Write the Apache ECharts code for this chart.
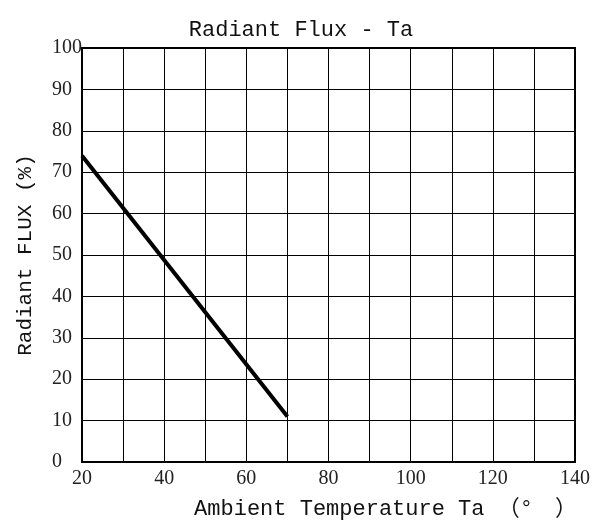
<!DOCTYPE html>
<html><head><meta charset="utf-8">
<script src="https://cdn.jsdelivr.net/npm/echarts@6/dist/echarts.min.js"></script>
<style>html,body{margin:0;padding:0;background:#fff}#c{width:602px;height:526px}</style>
</head><body><div id="c"></div>
<script>
const titleText = 'Radiant Flux - Ta';
const xName = 'Ambient Temperature Ta （°　）';
const yName = 'Radiant FLUX (%)';
const tempValues = [20, 70];
const fluxValues = [74, 11];

const chart = echarts.init(document.getElementById('c'));
const mono = 'Liberation Mono, Noto Sans CJK SC';
const serif = 'Liberation Serif';
chart.setOption({
  animation: false,
  backgroundColor: '#fff',
  title: { text: titleText, left: 'center', top: 14, textStyle: { fontFamily: mono, fontWeight: 'normal', fontSize: 22, color: '#111' } },
  grid: { left: 82, right: 27, top: 48, bottom: 64, show: true, borderColor: '#000', borderWidth: 2 },
  xAxis: {
    type: 'value', min: 20, max: 140, interval: 10,
    name: xName, nameLocation: 'middle', nameGap: 36,
    nameTextStyle: { fontFamily: mono, fontSize: 22, color: '#111', padding: [0, 0, 0, 114] },
    axisLine: { show: false }, axisTick: { show: false },
    axisLabel: { fontFamily: serif, fontSize: 20, color: '#222', margin: 7,
      formatter: v => (v % 20 === 0 ? String(v) : ''), showMaxLabel: true },
    splitLine: { show: true, lineStyle: { color: '#000', width: 1 } }
  },
  yAxis: {
    type: 'value', min: 0, max: 100, interval: 10,
    name: yName, nameLocation: 'middle', nameGap: 46,
    nameTextStyle: { fontFamily: mono, fontSize: 21, color: '#111' },
    axisLine: { show: false }, axisTick: { show: false },
    axisLabel: { fontFamily: serif, fontSize: 20, color: '#222', margin: 30, align: 'left', padding: [5, 0, 0, 0] },
    splitLine: { show: true, lineStyle: { color: '#000', width: 1 } }
  },
  series: [{
    type: 'line', data: tempValues.map((t, i) => [t, fluxValues[i]]),
    showSymbol: false, lineStyle: { color: '#000', width: 4 }
  }]
});
</script></body></html>
